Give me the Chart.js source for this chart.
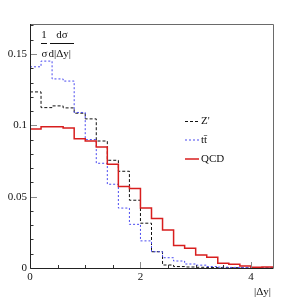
<!DOCTYPE html>
<html>
<head>
<meta charset="utf-8">
<script src="https://cdn.jsdelivr.net/npm/chart.js@4/dist/chart.umd.min.js"></script>
<style>
  html, body { margin: 0; padding: 0; background: #fff; }
  canvas { display: block; }
</style>
</head>
<body>
<canvas id="chart" width="304" height="305"></canvas>
<script>
// histogram contents, 22 bins of width 0.2 in |dy|
const binWidth = 0.2;
const xMax = 4.4;
const yMax = 0.171;

const zPrime = [0.1234, 0.1124, 0.1136, 0.1122, 0.1085, 0.1045, 0.0890, 0.0755, 0.0678, 0.0475, 0.0314,
                0.0114, 0.0021, 0.0010, 0.0007, 0.0005, 0.0003, 0.0002, 0.0002, 0.0001, 0.0001, 0.0001];
const ttbar = [0.1410, 0.1450, 0.1325, 0.1310, 0.1090, 0.0900, 0.0734, 0.0587, 0.0420, 0.0306, 0.0190,
               0.0114, 0.0072, 0.0049, 0.0028, 0.0020, 0.0010, 0.0006, 0.0004, 0.0003, 0.0002, 0.0001];
const qcd = [0.0975, 0.0990, 0.0990, 0.0982, 0.0905, 0.0890, 0.0848, 0.0727, 0.0572, 0.0558, 0.0420,
             0.0347, 0.0266, 0.0157, 0.0138, 0.0091, 0.0075, 0.0033, 0.0026, 0.0014, 0.0005, 0.0007];

const seriesNames = ["Z'", 't\u0074\u0304', 'QCD'];

const xTickValues = [0, 2, 4];
const xTickLabels = ['0', '2', '4'];
const yTickValues = [0, 0.05, 0.1, 0.15];
const yTickLabels = ['0', '0.05', '0.1', '0.15'];

const serif = '"Liberation Serif", "DejaVu Serif", serif';

function histPoints(vals) {
    const pts = vals.map((v, i) => ({ x: +(i * binWidth).toFixed(2), y: v }));
    pts.push({ x: xMax, y: vals[vals.length - 1] });
    return pts;
}

// frame, inner ticks, y label, x title and legend
const decorations = {
    id: 'decorations',
    afterDraw(chart) {
        const ctx = chart.ctx;
        const area = chart.chartArea;
        const xs = chart.scales.x;
        const ys = chart.scales.y;
        ctx.save();

        // top and right of the frame
        ctx.strokeStyle = '#6a6a6a';
        ctx.lineWidth = 1;
        ctx.beginPath();
        ctx.moveTo(area.left, area.top + 0.5);
        ctx.lineTo(area.right + 0.5, area.top + 0.5);
        ctx.lineTo(area.right + 0.5, area.bottom);
        ctx.stroke();

        // y ticks inside the frame
        for (let i = 0; i <= 17; i++) {
            const v = i / 100;
            const y = Math.round(ys.getPixelForValue(v)) + 0.5;
            const major = i % 5 === 0;
            ctx.strokeStyle = major ? '#8a8a8a' : '#333';
            ctx.beginPath();
            ctx.moveTo(area.left, y);
            ctx.lineTo(area.left + (major ? 7 : 3.5), y);
            ctx.stroke();
        }
        // x ticks inside the frame
        for (let i = 1; i <= 8; i++) {
            const v = i * 0.5;
            const x = Math.round(xs.getPixelForValue(v)) + 0.5;
            const major = i % 4 === 0;
            ctx.strokeStyle = major ? '#8a8a8a' : '#333';
            ctx.beginPath();
            ctx.moveTo(x, area.bottom);
            ctx.lineTo(x, area.bottom - (major ? 6 : 3));
            ctx.stroke();
        }

        // left and bottom axes
        ctx.strokeStyle = '#222';
        ctx.beginPath();
        ctx.moveTo(area.left + 0.5, area.top);
        ctx.lineTo(area.left + 0.5, area.bottom + 0.5);
        ctx.lineTo(area.right + 0.5, area.bottom + 0.5);
        ctx.stroke();

        ctx.fillStyle = '#111';
        ctx.textBaseline = 'middle';
        ctx.font = '11px ' + serif;

        // y axis label: 1/sigma dsigma/d|dy|
        ctx.textAlign = 'center';
        ctx.fillText('1', 44, 35);
        ctx.fillText('d\u03c3', 62, 35);
        ctx.textAlign = 'left';
        ctx.fillText('\u03c3', 41.5, 54);
        ctx.fillText('d|\u0394y|', 48.5, 54);
        ctx.strokeStyle = '#111';
        ctx.beginPath();
        ctx.moveTo(41, 43.5);
        ctx.lineTo(47, 43.5);
        ctx.moveTo(50, 43.5);
        ctx.lineTo(74, 43.5);
        ctx.stroke();

        // x axis title
        ctx.textAlign = 'right';
        ctx.fillText('|\u0394y|', 271, 292);

        // legend
        const legendY = [121, 139.5, 158.5];
        chart.data.datasets.forEach((ds, i) => {
            const y = legendY[i] + 0.5;
            ctx.strokeStyle = ds.borderColor;
            ctx.lineWidth = ds.borderWidth;
            ctx.setLineDash(ds.borderDash || []);
            ctx.beginPath();
            ctx.moveTo(185, y);
            ctx.lineTo(199, y);
            ctx.stroke();
            ctx.setLineDash([]);
            ctx.textAlign = 'left';
            ctx.fillStyle = '#111';
            ctx.fillText(ds.label, 201, legendY[i] + 0.5);
        });

        ctx.restore();
    }
};

new Chart(document.getElementById('chart'), {
    type: 'line',
    data: {
        datasets: [
            {
                label: seriesNames[0],
                data: histPoints(zPrime),
                borderColor: '#111',
                borderWidth: 1,
                borderDash: [3, 2],
                stepped: 'before',
                pointRadius: 0,
                order: 2
            },
            {
                label: seriesNames[1],
                data: histPoints(ttbar),
                borderColor: '#4a4af0',
                borderWidth: 1,
                borderDash: [2, 2],
                stepped: 'before',
                pointRadius: 0,
                order: 1
            },
            {
                label: seriesNames[2],
                data: histPoints(qcd),
                borderColor: '#d81e1e',
                borderWidth: 1.5,
                stepped: 'before',
                pointRadius: 0,
                order: 0
            }
        ]
    },
    options: {
        responsive: false,
        animation: false,
        layout: { padding: { top: 24, right: 31, left: 0, bottom: 0 } },
        plugins: {
            legend: { display: false },
            tooltip: { enabled: false }
        },
        scales: {
            x: {
                type: 'linear',
                min: 0,
                max: xMax,
                grid: { display: false, drawTicks: false },
                border: { display: false },
                afterBuildTicks: scale => { scale.ticks = xTickValues.map(v => ({ value: v })); },
                afterFit: scale => { scale.height = 37; },
                ticks: {
                    padding: 3,
                    maxRotation: 0,
                    color: '#111',
                    font: { family: serif, size: 11 },
                    callback: (v, i) => xTickLabels[i]
                }
            },
            y: {
                type: 'linear',
                min: 0,
                max: yMax,
                grid: { display: false, drawTicks: false },
                border: { display: false },
                afterBuildTicks: scale => { scale.ticks = yTickValues.map(v => ({ value: v })); },
                afterFit: scale => { scale.width = 30; },
                ticks: {
                    padding: 3,
                    color: '#111',
                    font: { family: serif, size: 11 },
                    callback: (v, i) => yTickLabels[i]
                }
            }
        }
    },
    plugins: [decorations]
});
</script>
</body>
</html>
